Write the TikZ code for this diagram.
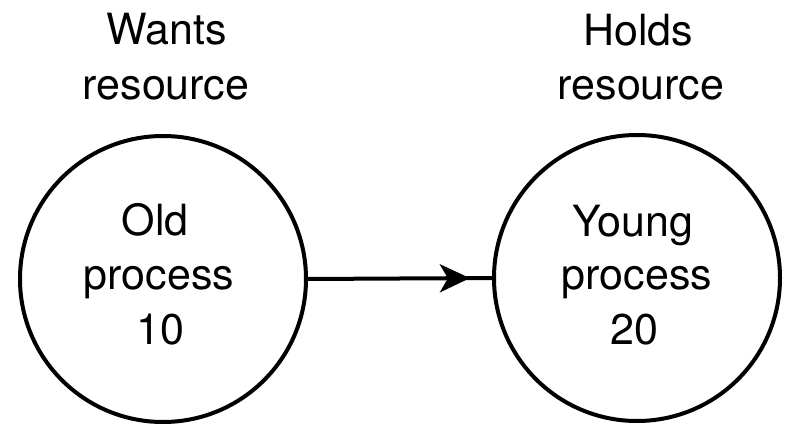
\documentclass[tikz,border=0pt]{standalone}
\usepackage{fontspec}
\setmainfont{TeX Gyre Heros}
\usetikzlibrary{arrows.meta,decorations.markings}
\begin{document}
\begin{tikzpicture}[x=0.5pt,y=-0.5pt,
  proc/.style={circle,draw,line width=2pt,minimum size=143pt,inner sep=0pt},
  txt/.style={anchor=base,inner sep=0pt,font=\fontsize{21.5}{26}\selectfont},
  link/.style={line width=2pt,postaction={decorate},
    decoration={markings,mark=at position 0.88 with {\arrow{Stealth[length=15pt,width=14pt,inset=4pt]}}}}]
\useasboundingbox (0,0) rectangle (793,427);

% the two processes
\node[proc] (old) at (163,279) {};
\node[proc] (young) at (637,278) {};

% captions above the circles
\node[txt] (wants) at (167,45) {Wants};
\node[txt] (wantsres) at (166,100) {resource};
\node[txt] (holds) at (638,46) {Holds};
\node[txt] (holdsres) at (641,100) {resource};

% text inside the circles
\node[txt] (oldname) at (155,236) {Old};
\node[txt] (oldproc) at (159,290) {process};
\node[txt] (oldnum) at (160,345) {10};
\node[txt] (youngname) at (633,237) {Young};
\node[txt] (youngproc) at (637,290) {process};
\node[txt] (youngnum) at (634,345) {20};

% old process waits for the young one
\draw[link] (old.east) -- (young.west);
\end{tikzpicture}
\end{document}
